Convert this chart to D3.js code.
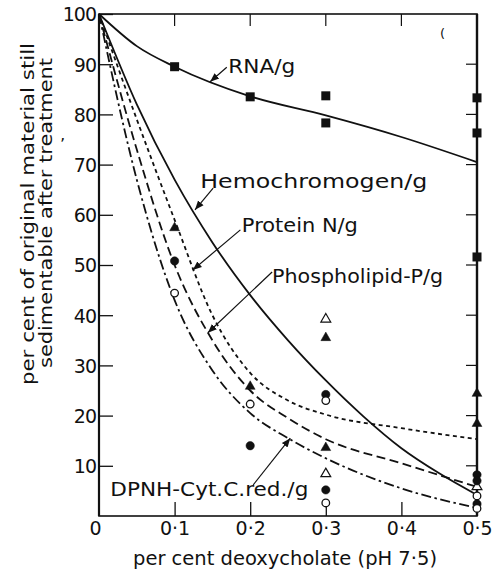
<!DOCTYPE html>
<html>
<head>
<meta charset="utf-8">
<script src="https://cdn.jsdelivr.net/npm/d3@7"></script>
<style>
  body { margin: 0; background: #fff; }
  text { font-family: "DejaVu Sans", sans-serif; fill: #111; }
  .axis path, .axis line { stroke: #111; }
  .curve { fill: none; stroke: #111; stroke-width: 1.8; }
</style>
</head>
<body>
<div class="chart-container"></div>
<script>
var xTicks = [0, 0.1, 0.2, 0.3, 0.4, 0.5];
var xTickLabels = ['0', '0·1', '0·2', '0·3', '0·4', '0·5'];
var yTicks = [10, 20, 30, 40, 50, 60, 70, 80, 90, 100];

// curves: [per cent deoxycholate, per cent sedimentable]
var rnaCurve = [[0, 100], [0.05, 93.6], [0.1, 89.5], [0.2, 83.6], [0.3, 79.8], [0.4, 75.5], [0.5, 70.5]];
var hemoCurve = [[0, 100], [0.05, 82], [0.1, 67], [0.15, 54.5], [0.2, 44], [0.25, 35], [0.3, 27], [0.35, 19.8], [0.4, 13.5], [0.45, 8.5], [0.5, 4.2]];
var proteinCurve = [[0, 100], [0.05, 79], [0.1, 59], [0.15, 40], [0.2, 28.5], [0.25, 23], [0.3, 20.2], [0.4, 17.5], [0.5, 15.3]];
var phosphoCurve = [[0, 100], [0.05, 73], [0.1, 50], [0.15, 35], [0.2, 25], [0.25, 19.5], [0.3, 15.3], [0.4, 10.5], [0.5, 5.8]];
var dpnhCurve = [[0, 100], [0.05, 67], [0.1, 43], [0.15, 29], [0.2, 20.5], [0.25, 15.5], [0.3, 11.5], [0.4, 5.5], [0.5, 1.6]];

// measured points
var rnaSquares = [[0.1, 89.5], [0.2, 83.5], [0.3, 83.7], [0.3, 78.3], [0.5, 83.3], [0.5, 76.3], [0.5, 51.6]];
var filledTriangles = [[0.1, 57.6], [0.2, 26], [0.3, 35.7], [0.3, 13.8], [0.5, 24.6], [0.5, 18.6]];
var openTriangles = [[0.3, 39.4], [0.3, 8.6], [0.5, 6]];
var filledCircles = [[0.1, 50.8], [0.2, 14], [0.3, 24.2], [0.3, 5.2], [0.5, 8.2], [0.5, 7], [0.5, 2.4]];
var openCircles = [[0.1, 44.4], [0.2, 22.3], [0.3, 23], [0.3, 2.6], [0.5, 4], [0.5, 1.5]];

// curve labels: text, start [x, y], width
var labels = [
  {text: 'RNA/g', at: [0.171, 88.2], w: 67},
  {text: 'Hemochromogen/g', at: [0.134, 65.3], w: 227},
  {text: 'Protein N/g', at: [0.189, 56.6], w: 116},
  {text: 'Phospholipid-P/g', at: [0.229, 46.4], w: 171},
  {text: 'DPNH-Cyt.C.red./g', at: [0.015, 4], w: 198}
];
// arrows: from -> to
var arrows = [
  [[0.169, 89.4], [0.147, 86.5]],
  [[0.151, 65.3], [0.127, 61]],
  [[0.187, 57], [0.124, 49]],
  [[0.229, 48.6], [0.144, 36.5]],
  [[0.204, 6.2], [0.253, 15.5]]
];

var W = 492, H = 572;
var x = d3.scaleLinear().domain([0, 0.5]).range([99, 477]);
var y = d3.scaleLinear().domain([0, 100]).range([516, 14]);

var svg = d3.select('.chart-container').append('svg')
  .attr('width', W)
  .attr('height', H);

svg.append('defs').append('marker')
  .attr('id', 'arrow')
  .attr('viewBox', '0 0 10 10')
  .attr('refX', 10).attr('refY', 5)
  .attr('markerWidth', 9).attr('markerHeight', 9)
  .attr('markerUnits', 'userSpaceOnUse')
  .attr('orient', 'auto')
  .append('path')
  .attr('d', 'M0,1L10,5L0,9Z')
  .attr('fill', '#111');

// frame
svg.append('rect')
  .attr('x', x(0)).attr('y', y(100))
  .attr('width', x(0.5) - x(0)).attr('height', y(0) - y(100))
  .attr('fill', 'none').attr('stroke', '#111').attr('stroke-width', 1.6);
svg.append('line')
  .attr('x1', x(0)).attr('x2', x(0)).attr('y1', y(0)).attr('y2', y(100))
  .attr('stroke', '#111').attr('stroke-width', 2.2);
svg.append('line')
  .attr('x1', x(0.5)).attr('x2', x(0.5)).attr('y1', y(0)).attr('y2', y(100))
  .attr('stroke', '#111').attr('stroke-width', 2.4);

// axes with inward ticks
var yAxis = d3.axisLeft(y).tickValues(yTicks).tickSize(-14).tickSizeOuter(0).tickPadding(3);
var gY = svg.append('g').attr('class', 'axis')
  .attr('transform', `translate(${x(0)},0)`)
  .call(yAxis);
gY.select('.domain').remove();
gY.selectAll('line').attr('stroke-width', 1.3);
gY.selectAll('text').style('font-size', '19px').attr('dy', '0.36em').attr('letter-spacing', '-1');

var xAxis = d3.axisBottom(x).tickValues(xTicks).tickSize(-14).tickSizeOuter(0).tickPadding(5)
  .tickFormat((d, i) => xTickLabels[i]);
var gX = svg.append('g').attr('class', 'axis')
  .attr('transform', `translate(0,${y(0)})`)
  .call(xAxis);
gX.select('.domain').remove();
gX.selectAll('line').attr('stroke-width', 1.3);
gX.selectAll('text').style('font-size', '19px').attr('dy', '0.72em');
gX.selectAll('.tick').filter(d => d === 0 || d === 0.5).select('line').remove();
gX.selectAll('.tick').filter(d => d === 0).select('text').attr('dx', -4);

// top and right inner ticks
svg.append('g').selectAll('line')
  .data(xTicks.slice(1, 5))
  .enter().append('line')
  .attr('x1', d => x(d)).attr('x2', d => x(d))
  .attr('y1', y(100)).attr('y2', y(100) + 12)
  .attr('stroke', '#111').attr('stroke-width', 1.2);
svg.append('g').selectAll('line')
  .data(yTicks.slice(0, 9))
  .enter().append('line')
  .attr('x1', x(0.5)).attr('x2', x(0.5) - 11)
  .attr('y1', d => y(d)).attr('y2', d => y(d))
  .attr('stroke', '#111').attr('stroke-width', 1.2);

// curves
var line = d3.line()
  .curve(d3.curveMonotoneX)
  .x(d => x(d[0]))
  .y(d => y(d[1]));

function addCurve(data, width, dash) {
  return svg.append('path')
    .datum(data)
    .attr('class', 'curve')
    .attr('d', line)
    .attr('stroke-width', width)
    .attr('stroke-dasharray', dash);
}
addCurve(rnaCurve, 3, null);
addCurve(hemoCurve, 1.8, null);
addCurve(proteinCurve, 1.8, '4,3.5');
addCurve(phosphoCurve, 1.8, '9,4.5');
addCurve(dpnhCurve, 1.8, '10,3.5,2.5,3.5');

// markers
svg.append('g').selectAll('rect')
  .data(rnaSquares)
  .enter().append('rect')
  .attr('x', d => x(d[0]) - 4.5).attr('y', d => y(d[1]) - 4.5)
  .attr('width', 9).attr('height', 9)
  .attr('fill', '#111');

var tri = d3.symbol().type(d3.symbolTriangle).size(42);
function addTriangles(data, filled) {
  svg.append('g').selectAll('path')
    .data(data)
    .enter().append('path')
    .attr('d', tri)
    .attr('transform', d => `translate(${x(d[0])},${y(d[1]) + 1})`)
    .attr('fill', filled ? '#111' : '#fff')
    .attr('stroke', '#111')
    .attr('stroke-width', filled ? 0.5 : 1.2);
}
addTriangles(filledTriangles, true);
addTriangles(openTriangles, false);

function addCircles(data, filled) {
  svg.append('g').selectAll('circle')
    .data(data)
    .enter().append('circle')
    .attr('cx', d => x(d[0])).attr('cy', d => y(d[1]))
    .attr('r', filled ? 4.2 : 3.8)
    .attr('fill', filled ? '#111' : '#fff')
    .attr('stroke', '#111')
    .attr('stroke-width', filled ? 0.5 : 1.3);
}
addCircles(filledCircles, true);
addCircles(openCircles, false);

// arrows
svg.append('g').selectAll('line')
  .data(arrows)
  .enter().append('line')
  .attr('x1', d => x(d[0][0])).attr('y1', d => y(d[0][1]))
  .attr('x2', d => x(d[1][0])).attr('y2', d => y(d[1][1]))
  .attr('stroke', '#111').attr('stroke-width', 1.2)
  .attr('marker-end', 'url(#arrow)');

// labels
svg.append('g').selectAll('text')
  .data(labels)
  .enter().append('text')
  .attr('x', d => x(d.at[0])).attr('y', d => y(d.at[1]))
  .attr('textLength', d => d.w)
  .attr('lengthAdjust', 'spacingAndGlyphs')
  .style('font-size', '20px')
  .text(d => d.text);

/*
 * Axis titles
 */
svg.append('text')
  .attr('transform', 'translate(34,214) rotate(-90)')
  .attr('text-anchor', 'middle')
  .attr('textLength', 342)
  .attr('lengthAdjust', 'spacingAndGlyphs')
  .style('font-size', '18px')
  .text('per cent of original material still');
svg.append('text')
  .attr('transform', 'translate(52,213) rotate(-90)')
  .attr('text-anchor', 'middle')
  .attr('textLength', 310)
  .attr('lengthAdjust', 'spacingAndGlyphs')
  .style('font-size', '18px')
  .text('sedimentable after treatment');

svg.append('text')
  .attr('x', 133).attr('y', 565)
  .attr('textLength', 304)
  .attr('lengthAdjust', 'spacingAndGlyphs')
  .style('font-size', '19px')
  .text('per cent deoxycholate (pH 7·5)');

// specks of the printed original
svg.append('text').attr('x', 440).attr('y', 38).style('font-size', '13px').text('(');
svg.append('text').attr('x', 60).attr('y', 150).style('font-size', '16px').text('’');
</script>
</body>
</html>
